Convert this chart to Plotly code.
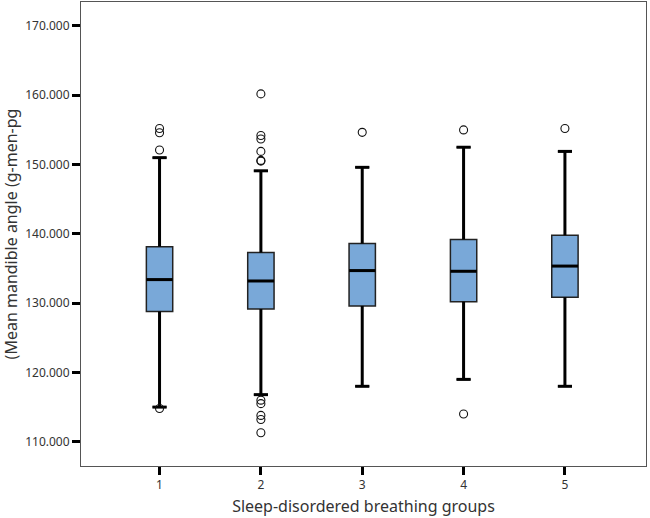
import plotly.graph_objects as go

groups = [1, 2, 3, 4, 5]
q1 = [128.8, 129.15, 129.6, 130.2, 130.85]
median = [133.4, 133.2, 134.7, 134.6, 135.35]
q3 = [138.15, 137.3, 138.6, 139.2, 139.8]
lower_fence = [115.0, 116.8, 118.0, 119.0, 118.0]
upper_fence = [151.0, 149.1, 149.6, 152.5, 151.9]

outlier_groups = [1, 1, 1, 1,
                  2, 2, 2, 2, 2, 2,
                  2, 2, 2, 2, 2,
                  3, 4, 4, 5]
outlier_values = [155.2, 154.6, 152.1, 114.8,
                  160.2, 154.2, 153.7, 151.9, 150.6, 150.5,
                  116.0, 115.5, 113.8, 113.2, 111.3,
                  154.65, 155.0, 114.0, 155.2]

tick_vals = [110, 120, 130, 140, 150, 160, 170]
tick_text = ["110.000", "120.000", "130.000", "140.000", "150.000", "160.000", "170.000"]

x_title = "Sleep-disordered breathing groups"
y_title = "(Mean mandible angle (g-men-pg"

BOX_W = 0.26
CAP_HALF = 0.07
FONT = "Noto Sans"

fig = go.Figure()

fig.add_trace(go.Box(
    x=groups, q1=q1, median=median, q3=q3,
    lowerfence=lower_fence, upperfence=upper_fence,
    width=BOX_W, whiskerwidth=0.53,
    fillcolor="#79A8D8",
    line=dict(color="#222222", width=1.5),
    boxpoints=False, showlegend=False, hoverinfo="skip",
))

# thick whiskers, caps, medians (SPSS style)
lx, ly = [], []
for g, a, b, c, lo, hi in zip(groups, q1, median, q3, lower_fence, upper_fence):
    lx += [g, g, None, g, g, None]
    ly += [c, hi, None, a, lo, None]
    lx += [g - CAP_HALF, g + CAP_HALF, None, g - CAP_HALF, g + CAP_HALF, None]
    ly += [hi, hi, None, lo, lo, None]
    lx += [g - BOX_W / 2, g + BOX_W / 2, None]
    ly += [b, b, None]
fig.add_trace(go.Scatter(
    x=lx, y=ly, mode="lines",
    line=dict(color="#000000", width=3),
    showlegend=False, hoverinfo="skip",
))

fig.add_trace(go.Scatter(
    x=outlier_groups, y=outlier_values, mode="markers",
    marker=dict(symbol="circle-open", size=8, color="#111111",
                line=dict(width=1.1, color="#111111")),
    showlegend=False, hoverinfo="skip",
))

fig.update_layout(
    width=650, height=518,
    margin=dict(l=81, r=4, t=2, b=52),
    paper_bgcolor="white", plot_bgcolor="white",
    font=dict(family=FONT, color="#333333"),
    xaxis=dict(
        range=[0.225, 5.8],
        tickmode="array", tickvals=groups, ticktext=[str(g) for g in groups],
        ticks="outside", ticklen=8, tickwidth=3, tickcolor="#000000",
        tickfont=dict(size=12, color="#333333"),
        showline=True, linecolor="#555555", linewidth=1, mirror=True,
        showgrid=False, zeroline=False,
        title=dict(text=x_title, font=dict(size=16, color="#333333"), standoff=8),
    ),
    yaxis=dict(
        range=[106.5, 173.46],
        tickmode="array", tickvals=tick_vals, ticktext=tick_text,
        ticks="outside", ticklen=8, tickwidth=3, tickcolor="#000000",
        tickfont=dict(size=12, color="#333333"),
        showline=True, linecolor="#555555", linewidth=1, mirror=True,
        showgrid=False, zeroline=False,
        title=dict(text=y_title, font=dict(size=16, color="#333333"), standoff=8),
    ),
)

fig.write_html("out.html", config={"displayModeBar": False},
               post_script="document.body.style.margin='0';")
